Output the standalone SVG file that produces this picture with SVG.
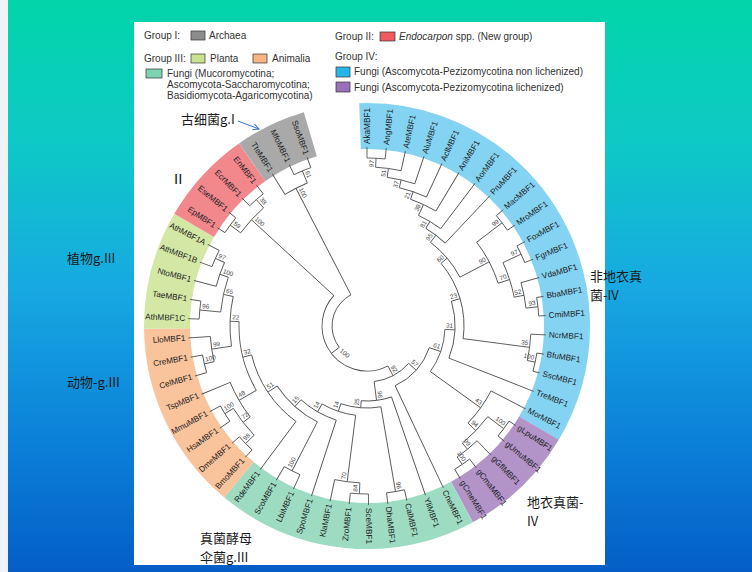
<svg xmlns="http://www.w3.org/2000/svg" width="752" height="572" viewBox="0 0 752 572">
<defs>
<linearGradient id="bg" x1="0" y1="0" x2="0" y2="1">
<stop offset="0" stop-color="#02d5a9"/>
<stop offset="0.25" stop-color="#0dc9c6"/>
<stop offset="0.5" stop-color="#17a9e2"/>
<stop offset="0.78" stop-color="#0b7fd8"/>
<stop offset="1" stop-color="#045ec6"/>
</linearGradient>
<marker id="ah" markerWidth="8" markerHeight="8" refX="6" refY="3" orient="auto" markerUnits="userSpaceOnUse">
<path d="M0,0 L6,3 L0,6" fill="none" stroke="#3d6fc4" stroke-width="1"/>
</marker>
<style>
.br{fill:none;stroke:#555;stroke-width:0.9}
.band{fill:none;stroke-width:46}
.lf{font-family:"Liberation Sans",Arial,sans-serif;font-size:8.2px;fill:#222;dominant-baseline:central}
.bs{font-family:"Liberation Sans",Arial,sans-serif;font-size:6.3px;fill:#444}
.lg{font-family:"Liberation Sans",Arial,sans-serif;font-size:10px;fill:#333}
.box{stroke:#333;stroke-width:0.7}
.cn{font-family:"Noto Sans CJK SC","Liberation Sans",sans-serif;font-size:13px;fill:#1a1a1a}
</style>
</defs>
<rect width="752" height="572" fill="url(#bg)"/>
<rect width="8" height="572" fill="#eef3f7"/>
<rect x="134" y="22" width="471" height="543" fill="#fff"/>

<g id="legend">
<text class="lg" x="144" y="39">Group I:</text>
<rect class="box" x="191" y="31" width="14" height="9" fill="#8c8c8c"/>
<text class="lg" x="209" y="39">Archaea</text>
<text class="lg" x="335" y="40">Group II:</text>
<rect class="box" x="380" y="32" width="15" height="9" fill="#ee5a60"/>
<text class="lg" x="399" y="40"><tspan font-style="italic">Endocarpon</tspan> spp. (New group)</text>
<text class="lg" x="144" y="62">Group III:</text>
<rect class="box" x="191" y="54" width="14" height="9" fill="#c9e28f"/>
<text class="lg" x="210" y="62">Planta</text>
<rect class="box" x="253" y="54" width="14" height="9" fill="#f6b483"/>
<text class="lg" x="272" y="62">Animalia</text>
<rect class="box" x="146" y="69" width="16" height="9" fill="#7ed3b3"/>
<text class="lg" x="167" y="77">Fungi (Mucoromycotina;</text>
<text class="lg" x="167" y="88">Ascomycota-Saccharomycotina;</text>
<text class="lg" x="167" y="99">Basidiomycota-Agaricomycotina)</text>
<text class="lg" x="335" y="60">Group IV:</text>
<rect class="box" x="336" y="67" width="14" height="10" fill="#29b5e8"/>
<text class="lg" x="354" y="75">Fungi (Ascomycota-Pezizomycotina non lichenized)</text>
<rect class="box" x="336" y="82" width="14" height="10" fill="#9a70b8"/>
<text class="lg" x="354" y="91">Fungi (Ascomycota-Pezizomycotina lichenized)</text>
</g>

<g id="tree" transform="translate(367,326)">
<g id="bands">
<circle class="band" r="200" stroke="#84d3f3" stroke-dasharray="428.3 3000" transform="rotate(-92)"/>
<circle class="band" r="200" stroke="#b294c9" stroke-dasharray="108.04 3000" transform="rotate(30.705)"/>
<circle class="band" r="200" stroke="#9ddcc3" stroke-dasharray="237.68 3000" transform="rotate(61.655)"/>
<circle class="band" r="200" stroke="#f9c39b" stroke-dasharray="172.86 3000" transform="rotate(129.745)"/>
<circle class="band" r="200" stroke="#d4e8a5" stroke-dasharray="108.04 3000" transform="rotate(179.265)"/>
<circle class="band" r="200" stroke="#f2878c" stroke-dasharray="86.43 3000" transform="rotate(210.215)"/>
<circle class="band" r="200" stroke="#a9a9a9" stroke-dasharray="64.82 3000" transform="rotate(234.975)"/>
</g>

<g id="connectors" class="br">
<circle r="168" stroke-dasharray="18.15 3000" transform="rotate(-90)"/>
<circle r="159" stroke-dasharray="25.77 3000" transform="rotate(-86.905)"/>
<circle r="150" stroke-dasharray="28.35 3000" transform="rotate(-82.26)"/>
<circle r="142" stroke-dasharray="28.77 3000" transform="rotate(-76.85)"/>
<circle r="134" stroke-dasharray="28.04 3000" transform="rotate(-71.04)"/>
<circle r="122" stroke-dasharray="25.96 3000" transform="rotate(-65.05)"/>
<circle r="114" stroke-dasharray="24.43 3000" transform="rotate(-58.95)"/>
<circle r="170" stroke-dasharray="18.37 3000" transform="rotate(-40.48)"/>
<circle r="170" stroke-dasharray="18.37 3000" transform="rotate(-28.1)"/>
<circle r="172" stroke-dasharray="18.58 3000" transform="rotate(-9.53)"/>
<circle r="160" stroke-dasharray="25.93 3000" transform="rotate(-15.72)"/>
<circle r="150" stroke-dasharray="36.46 3000" transform="rotate(-25.005)"/>
<circle r="138" stroke-dasharray="46.59 3000" transform="rotate(-37.385)"/>
<circle r="105" stroke-dasharray="46.0 3000" transform="rotate(-52.81)"/>
<circle r="172" stroke-dasharray="18.58 3000" transform="rotate(9.04)"/>
<circle r="164" stroke-dasharray="26.58 3000" transform="rotate(2.85)"/>
<circle r="97" stroke-dasharray="80.84 3000" transform="rotate(-40.26)"/>
<circle r="88" stroke-dasharray="58.06 3000" transform="rotate(-16.385)"/>
<circle r="171" stroke-dasharray="18.47 3000" transform="rotate(33.8)"/>
<circle r="168" stroke-dasharray="18.15 3000" transform="rotate(52.37)"/>
<circle r="159" stroke-dasharray="25.77 3000" transform="rotate(46.18)"/>
<circle r="151" stroke-dasharray="36.70 3000" transform="rotate(36.895)"/>
<circle r="140" stroke-dasharray="39.71 3000" transform="rotate(27.61)"/>
<circle r="78" stroke-dasharray="45.22 3000" transform="rotate(2.52)"/>
<circle r="66" stroke-dasharray="52.55 3000" transform="rotate(19.13)"/>
<circle r="168" stroke-dasharray="18.15 3000" transform="rotate(77.13)"/>
<circle r="168" stroke-dasharray="18.15 3000" transform="rotate(89.51)"/>
<circle r="157" stroke-dasharray="25.44 3000" transform="rotate(92.605)"/>
<circle r="163" stroke-dasharray="17.61 3000" transform="rotate(114.27)"/>
<circle r="167" stroke-dasharray="18.04 3000" transform="rotate(145.22)"/>
<circle r="169" stroke-dasharray="18.26 3000" transform="rotate(132.84)"/>
<circle r="157" stroke-dasharray="33.92 3000" transform="rotate(135.935)"/>
<circle r="148" stroke-dasharray="39.97 3000" transform="rotate(142.125)"/>
<circle r="167" stroke-dasharray="18.04 3000" transform="rotate(163.79)"/>
<circle r="157" stroke-dasharray="25.44 3000" transform="rotate(166.885)"/>
<circle r="168" stroke-dasharray="18.15 3000" transform="rotate(182.36)"/>
<circle r="166" stroke-dasharray="17.93 3000" transform="rotate(200.93)"/>
<circle r="156" stroke-dasharray="25.28 3000" transform="rotate(194.74)"/>
<circle r="147" stroke-dasharray="35.73 3000" transform="rotate(185.455)"/>
<circle r="137" stroke-dasharray="49.95 3000" transform="rotate(171.53)"/>
<circle r="128" stroke-dasharray="71.75 3000" transform="rotate(149.86)"/>
<circle r="119" stroke-dasharray="81.56 3000" transform="rotate(126.65)"/>
<circle r="108" stroke-dasharray="54.51 3000" transform="rotate(117.365)"/>
<circle r="99" stroke-dasharray="41.03 3000" transform="rotate(108.08)"/>
<circle r="90" stroke-dasharray="35.66 3000" transform="rotate(97.25)"/>
<circle r="82" stroke-dasharray="40.61 3000" transform="rotate(80.225)"/>
<circle r="75" stroke-dasharray="30.72 3000" transform="rotate(70.94)"/>
<circle r="56" stroke-dasharray="39.81 3000" transform="rotate(41.94)"/>
<circle r="168" stroke-dasharray="18.15 3000" transform="rotate(225.69)"/>
<circle r="170" stroke-dasharray="18.37 3000" transform="rotate(213.31)"/>
<circle r="157" stroke-dasharray="33.92 3000" transform="rotate(216.405)"/>
<circle r="45" stroke-dasharray="125.89 3000" transform="rotate(62.31)"/>
<circle r="168" stroke-dasharray="18.15 3000" transform="rotate(244.26)"/>
<circle r="155" stroke-dasharray="25.12 3000" transform="rotate(238.07)"/>
<circle r="35" stroke-dasharray="61.25 3000" transform="rotate(142.45)"/>
<line x1="168" x2="179" transform="rotate(-90)"/>
<line x1="168" x2="179" transform="rotate(-83.81)"/>
<line x1="159" x2="179" transform="rotate(-77.62)"/>
<line x1="150" x2="179" transform="rotate(-71.43)"/>
<line x1="142" x2="179" transform="rotate(-65.24)"/>
<line x1="134" x2="179" transform="rotate(-59.05)"/>
<line x1="122" x2="179" transform="rotate(-52.86)"/>
<line x1="114" x2="179" transform="rotate(-46.67)"/>
<line x1="170" x2="179" transform="rotate(-40.48)"/>
<line x1="170" x2="179" transform="rotate(-34.29)"/>
<line x1="170" x2="179" transform="rotate(-28.1)"/>
<line x1="170" x2="179" transform="rotate(-21.91)"/>
<line x1="160" x2="179" transform="rotate(-15.72)"/>
<line x1="172" x2="179" transform="rotate(-9.53)"/>
<line x1="172" x2="179" transform="rotate(-3.34)"/>
<line x1="164" x2="179" transform="rotate(2.85)"/>
<line x1="172" x2="179" transform="rotate(9.04)"/>
<line x1="172" x2="179" transform="rotate(15.23)"/>
<line x1="88" x2="179" transform="rotate(21.42)"/>
<line x1="140" x2="179" transform="rotate(27.61)"/>
<line x1="171" x2="179" transform="rotate(33.8)"/>
<line x1="171" x2="179" transform="rotate(39.99)"/>
<line x1="159" x2="179" transform="rotate(46.18)"/>
<line x1="168" x2="179" transform="rotate(52.37)"/>
<line x1="168" x2="179" transform="rotate(58.56)"/>
<line x1="66" x2="179" transform="rotate(64.75)"/>
<line x1="75" x2="179" transform="rotate(70.94)"/>
<line x1="168" x2="179" transform="rotate(77.13)"/>
<line x1="168" x2="179" transform="rotate(83.32)"/>
<line x1="168" x2="179" transform="rotate(89.51)"/>
<line x1="168" x2="179" transform="rotate(95.7)"/>
<line x1="157" x2="179" transform="rotate(101.89)"/>
<line x1="99" x2="179" transform="rotate(108.08)"/>
<line x1="163" x2="179" transform="rotate(114.27)"/>
<line x1="163" x2="179" transform="rotate(120.46)"/>
<line x1="119" x2="179" transform="rotate(126.65)"/>
<line x1="169" x2="179" transform="rotate(132.84)"/>
<line x1="169" x2="179" transform="rotate(139.03)"/>
<line x1="167" x2="179" transform="rotate(145.22)"/>
<line x1="167" x2="179" transform="rotate(151.41)"/>
<line x1="148" x2="179" transform="rotate(157.6)"/>
<line x1="167" x2="179" transform="rotate(163.79)"/>
<line x1="167" x2="179" transform="rotate(169.98)"/>
<line x1="157" x2="179" transform="rotate(176.17)"/>
<line x1="168" x2="179" transform="rotate(182.36)"/>
<line x1="168" x2="179" transform="rotate(188.55)"/>
<line x1="156" x2="179" transform="rotate(194.74)"/>
<line x1="166" x2="179" transform="rotate(200.93)"/>
<line x1="166" x2="179" transform="rotate(207.12)"/>
<line x1="170" x2="179" transform="rotate(213.31)"/>
<line x1="170" x2="179" transform="rotate(219.5)"/>
<line x1="168" x2="179" transform="rotate(225.69)"/>
<line x1="168" x2="179" transform="rotate(231.88)"/>
<line x1="155" x2="179" transform="rotate(238.07)"/>
<line x1="168" x2="179" transform="rotate(244.26)"/>
<line x1="168" x2="179" transform="rotate(250.45)"/>
<line x1="159" x2="168" transform="rotate(-86.905)"/>
<line x1="150" x2="159" transform="rotate(-82.26)"/>
<line x1="142" x2="150" transform="rotate(-76.85)"/>
<line x1="134" x2="142" transform="rotate(-71.04)"/>
<line x1="122" x2="134" transform="rotate(-65.05)"/>
<line x1="114" x2="122" transform="rotate(-58.95)"/>
<line x1="105" x2="114" transform="rotate(-52.81)"/>
<line x1="138" x2="170" transform="rotate(-37.385)"/>
<line x1="150" x2="170" transform="rotate(-25.005)"/>
<line x1="160" x2="172" transform="rotate(-6.435)"/>
<line x1="150" x2="160" transform="rotate(-11.08)"/>
<line x1="138" x2="150" transform="rotate(-18.04)"/>
<line x1="105" x2="138" transform="rotate(-27.71)"/>
<line x1="97" x2="105" transform="rotate(-40.26)"/>
<line x1="164" x2="172" transform="rotate(12.135)"/>
<line x1="97" x2="164" transform="rotate(7.49)"/>
<line x1="88" x2="97" transform="rotate(-16.385)"/>
<line x1="78" x2="88" transform="rotate(2.52)"/>
<line x1="151" x2="171" transform="rotate(36.895)"/>
<line x1="159" x2="168" transform="rotate(55.465)"/>
<line x1="151" x2="159" transform="rotate(50.82)"/>
<line x1="140" x2="151" transform="rotate(43.86)"/>
<line x1="78" x2="140" transform="rotate(35.735)"/>
<line x1="66" x2="78" transform="rotate(19.13)"/>
<line x1="56" x2="66" transform="rotate(41.94)"/>
<line x1="82" x2="168" transform="rotate(80.225)"/>
<line x1="157" x2="168" transform="rotate(92.605)"/>
<line x1="90" x2="157" transform="rotate(97.25)"/>
<line x1="108" x2="163" transform="rotate(117.365)"/>
<line x1="157" x2="167" transform="rotate(148.315)"/>
<line x1="157" x2="169" transform="rotate(135.935)"/>
<line x1="148" x2="157" transform="rotate(142.125)"/>
<line x1="128" x2="148" transform="rotate(149.86)"/>
<line x1="157" x2="167" transform="rotate(166.885)"/>
<line x1="137" x2="157" transform="rotate(171.53)"/>
<line x1="147" x2="168" transform="rotate(185.455)"/>
<line x1="156" x2="166" transform="rotate(204.025)"/>
<line x1="147" x2="156" transform="rotate(199.38)"/>
<line x1="137" x2="147" transform="rotate(192.42)"/>
<line x1="128" x2="137" transform="rotate(181.975)"/>
<line x1="119" x2="128" transform="rotate(165.92)"/>
<line x1="108" x2="119" transform="rotate(146.285)"/>
<line x1="99" x2="108" transform="rotate(131.825)"/>
<line x1="90" x2="99" transform="rotate(119.95)"/>
<line x1="82" x2="90" transform="rotate(108.6)"/>
<line x1="75" x2="82" transform="rotate(94.41)"/>
<line x1="56" x2="75" transform="rotate(82.675)"/>
<line x1="45" x2="56" transform="rotate(62.31)"/>
<line x1="157" x2="168" transform="rotate(228.785)"/>
<line x1="157" x2="170" transform="rotate(216.405)"/>
<line x1="45" x2="157" transform="rotate(222.595)"/>
<line x1="35" x2="45" transform="rotate(142.45)"/>
<line x1="155" x2="168" transform="rotate(247.355)"/>
<line x1="35" x2="155" transform="rotate(242.71)"/>
</g>

<g id="bootstrap" class="bs">
<text text-anchor="end" transform="rotate(-86.905) translate(166,-2)">97</text>
<text text-anchor="end" transform="rotate(-82.26) translate(157,-2)">51</text>
<text text-anchor="end" transform="rotate(-76.85) translate(148,-2)">37</text>
<text text-anchor="end" transform="rotate(-71.04) translate(140,-2)">21</text>
<text text-anchor="end" transform="rotate(-65.05) translate(132,-2)">39</text>
<text text-anchor="end" transform="rotate(-58.95) translate(120,-2)">81</text>
<text text-anchor="end" transform="rotate(-52.81) translate(112,-2)">95</text>
<text text-anchor="end" transform="rotate(-37.385) translate(168,-2)">99</text>
<text text-anchor="end" transform="rotate(-25.005) translate(168,-2)">97</text>
<text text-anchor="end" transform="rotate(-6.435) translate(170,-2)">93</text>
<text text-anchor="end" transform="rotate(-11.08) translate(158,-2)">52</text>
<text text-anchor="end" transform="rotate(-18.04) translate(148,-2)">70</text>
<text text-anchor="end" transform="rotate(-27.71) translate(136,-2)">90</text>
<text text-anchor="end" transform="rotate(-40.26) translate(103,-2)">60</text>
<text text-anchor="end" transform="rotate(12.135) translate(170,-2)">100</text>
<text text-anchor="end" transform="rotate(7.49) translate(162,-2)">35</text>
<text text-anchor="end" transform="rotate(-16.385) translate(95,-2)">23</text>
<text text-anchor="end" transform="rotate(2.52) translate(86,-2)">31</text>
<text text-anchor="end" transform="rotate(36.895) translate(169,-2)">100</text>
<text text-anchor="end" transform="rotate(55.465) translate(166,-2)">100</text>
<text text-anchor="end" transform="rotate(50.82) translate(157,-2)">99</text>
<text text-anchor="end" transform="rotate(43.86) translate(149,-2)">94</text>
<text text-anchor="end" transform="rotate(35.735) translate(138,-2)">43</text>
<text text-anchor="end" transform="rotate(19.13) translate(76,-2)">61</text>
<text text-anchor="end" transform="rotate(41.94) translate(64,-2)">57</text>
<text text-anchor="end" transform="rotate(80.225) translate(166,-2)">96</text>
<text text-anchor="end" transform="rotate(82.675) translate(73,-2)">96</text>
<text text-anchor="end" transform="rotate(62.31) translate(54,-2)">92</text>
<text transform="rotate(92.605) translate(166,2) rotate(180)">84</text>
<text transform="rotate(97.25) translate(155,2) rotate(180)">70</text>
<text transform="rotate(117.365) translate(161,2) rotate(180)">100</text>
<text transform="rotate(148.315) translate(165,2) rotate(180)">100</text>
<text transform="rotate(135.935) translate(167,2) rotate(180)">98</text>
<text transform="rotate(142.125) translate(155,2) rotate(180)">72</text>
<text transform="rotate(149.86) translate(146,2) rotate(180)">48</text>
<text transform="rotate(166.885) translate(165,2) rotate(180)">100</text>
<text transform="rotate(171.53) translate(155,2) rotate(180)">99</text>
<text transform="rotate(185.455) translate(166,2) rotate(180)">96</text>
<text transform="rotate(204.025) translate(164,2) rotate(180)">97</text>
<text transform="rotate(199.38) translate(154,2) rotate(180)">100</text>
<text transform="rotate(192.42) translate(145,2) rotate(180)">65</text>
<text transform="rotate(181.975) translate(135,2) rotate(180)">22</text>
<text transform="rotate(165.92) translate(126,2) rotate(180)">32</text>
<text transform="rotate(146.285) translate(117,2) rotate(180)">51</text>
<text transform="rotate(131.825) translate(106,2) rotate(180)">15</text>
<text transform="rotate(119.95) translate(97,2) rotate(180)">14</text>
<text transform="rotate(108.6) translate(88,2) rotate(180)">14</text>
<text transform="rotate(94.41) translate(80,2) rotate(180)">25</text>
<text transform="rotate(228.785) translate(166,2) rotate(180)">38</text>
<text transform="rotate(216.405) translate(168,2) rotate(180)">59</text>
<text transform="rotate(222.595) translate(155,2) rotate(180)">100</text>
<text transform="rotate(247.355) translate(166,2) rotate(180)">61</text>
<text transform="rotate(242.71) translate(153,2) rotate(180)">100</text>
<text text-anchor="middle" dominant-baseline="central" transform="translate(-22,27) rotate(40)">100</text>
</g>

<g id="leaves" class="lf">
<g id="n-AkaMBF1"><text transform="rotate(-90) translate(182,0)">AkaMBF1</text></g>
<g id="n-AngMBF1"><text transform="rotate(-83.81) translate(182,0)">AngMBF1</text></g>
<g id="n-AteMBF1"><text transform="rotate(-77.62) translate(182,0)">AteMBF1</text></g>
<g id="n-AluMBF1"><text transform="rotate(-71.43) translate(182,0)">AluMBF1</text></g>
<g id="n-AclMBF1"><text transform="rotate(-65.24) translate(182,0)">AclMBF1</text></g>
<g id="n-AniMBF1"><text transform="rotate(-59.05) translate(182,0)">AniMBF1</text></g>
<g id="n-AorMBF1"><text transform="rotate(-52.86) translate(182,0)">AorMBF1</text></g>
<g id="n-PruMBF1"><text transform="rotate(-46.67) translate(182,0)">PruMBF1</text></g>
<g id="n-MacMBF1"><text transform="rotate(-40.48) translate(182,0)">MacMBF1</text></g>
<g id="n-MroMBF1"><text transform="rotate(-34.29) translate(182,0)">MroMBF1</text></g>
<g id="n-FoxMBF1"><text transform="rotate(-28.1) translate(182,0)">FoxMBF1</text></g>
<g id="n-FgrMBF1"><text transform="rotate(-21.91) translate(182,0)">FgrMBF1</text></g>
<g id="n-VdaMBF1"><text transform="rotate(-15.72) translate(182,0)">VdaMBF1</text></g>
<g id="n-BbaMBF1"><text transform="rotate(-9.53) translate(182,0)">BbaMBF1</text></g>
<g id="n-CmiMBF1"><text transform="rotate(-3.34) translate(182,0)">CmiMBF1</text></g>
<g id="n-NcrMBF1"><text transform="rotate(2.85) translate(182,0)">NcrMBF1</text></g>
<g id="n-BfuMBF1"><text transform="rotate(9.04) translate(182,0)">BfuMBF1</text></g>
<g id="n-SscMBF1"><text transform="rotate(15.23) translate(182,0)">SscMBF1</text></g>
<g id="n-TreMBF1"><text transform="rotate(21.42) translate(182,0)">TreMBF1</text></g>
<g id="n-MorMBF1"><text transform="rotate(27.61) translate(182,0)">MorMBF1</text></g>
<g id="n-gLpuMBF1"><text transform="rotate(33.8) translate(182,0)">gLpuMBF1</text></g>
<g id="n-gUmuMBF1"><text transform="rotate(39.99) translate(182,0)">gUmuMBF1</text></g>
<g id="n-gGflMBF1"><text transform="rotate(46.18) translate(182,0)">gGflMBF1</text></g>
<g id="n-gCmaMBF1"><text transform="rotate(52.37) translate(182,0)">gCmaMBF1</text></g>
<g id="n-gCmeMBF1"><text transform="rotate(58.56) translate(182,0)">gCmeMBF1</text></g>
<g id="n-CneMBF1"><text transform="rotate(64.75) translate(182,0)">CneMBF1</text></g>
<g id="n-YliMBF1"><text transform="rotate(70.94) translate(182,0)">YliMBF1</text></g>
<g id="n-CalMBF1"><text transform="rotate(77.13) translate(182,0)">CalMBF1</text></g>
<g id="n-DhaMBF1"><text transform="rotate(83.32) translate(182,0)">DhaMBF1</text></g>
<g id="n-SceMBF1"><text transform="rotate(89.51) translate(182,0)">SceMBF1</text></g>
<g id="n-ZroMBF1"><text text-anchor="end" transform="rotate(95.7) translate(182,0) rotate(180)">ZroMBF1</text></g>
<g id="n-KlaMBF1"><text text-anchor="end" transform="rotate(101.89) translate(182,0) rotate(180)">KlaMBF1</text></g>
<g id="n-SpoMBF1"><text text-anchor="end" transform="rotate(108.08) translate(182,0) rotate(180)">SpoMBF1</text></g>
<g id="n-LbiMBF1"><text text-anchor="end" transform="rotate(114.27) translate(182,0) rotate(180)">LbiMBF1</text></g>
<g id="n-ScoMBF1"><text text-anchor="end" transform="rotate(120.46) translate(182,0) rotate(180)">ScoMBF1</text></g>
<g id="n-RdeMBF1"><text text-anchor="end" transform="rotate(126.65) translate(182,0) rotate(180)">RdeMBF1</text></g>
<g id="n-BmoMBF1"><text text-anchor="end" transform="rotate(132.84) translate(182,0) rotate(180)">BmoMBF1</text></g>
<g id="n-DmeMBF1"><text text-anchor="end" transform="rotate(139.03) translate(182,0) rotate(180)">DmeMBF1</text></g>
<g id="n-HsaMBF1"><text text-anchor="end" transform="rotate(145.22) translate(182,0) rotate(180)">HsaMBF1</text></g>
<g id="n-MmuMBF1"><text text-anchor="end" transform="rotate(151.41) translate(182,0) rotate(180)">MmuMBF1</text></g>
<g id="n-TspMBF1"><text text-anchor="end" transform="rotate(157.6) translate(182,0) rotate(180)">TspMBF1</text></g>
<g id="n-CelMBF1"><text text-anchor="end" transform="rotate(163.79) translate(182,0) rotate(180)">CelMBF1</text></g>
<g id="n-CreMBF1"><text text-anchor="end" transform="rotate(169.98) translate(182,0) rotate(180)">CreMBF1</text></g>
<g id="n-LloMBF1"><text text-anchor="end" transform="rotate(176.17) translate(182,0) rotate(180)">LloMBF1</text></g>
<g id="n-AthMBF1C"><text text-anchor="end" transform="rotate(182.36) translate(182,0) rotate(180)">AthMBF1C</text></g>
<g id="n-TaeMBF1"><text text-anchor="end" transform="rotate(188.55) translate(182,0) rotate(180)">TaeMBF1</text></g>
<g id="n-NtoMBF1"><text text-anchor="end" transform="rotate(194.74) translate(182,0) rotate(180)">NtoMBF1</text></g>
<g id="n-AthMBF1B"><text text-anchor="end" transform="rotate(200.93) translate(182,0) rotate(180)">AthMBF1B</text></g>
<g id="n-AthMBF1A"><text text-anchor="end" transform="rotate(207.12) translate(182,0) rotate(180)">AthMBF1A</text></g>
<g id="n-EpMBF1"><text text-anchor="end" transform="rotate(213.31) translate(182,0) rotate(180)">EpMBF1</text></g>
<g id="n-EseMBF1"><text text-anchor="end" transform="rotate(219.5) translate(182,0) rotate(180)">EseMBF1</text></g>
<g id="n-EcrMBF1"><text text-anchor="end" transform="rotate(225.69) translate(182,0) rotate(180)">EcrMBF1</text></g>
<g id="n-EnMBF1"><text text-anchor="end" transform="rotate(231.88) translate(182,0) rotate(180)">EnMBF1</text></g>
<g id="n-TteMBF1"><text text-anchor="end" transform="rotate(238.07) translate(182,0) rotate(180)">TteMBF1</text></g>
<g id="n-MfoMBF1"><text text-anchor="end" transform="rotate(244.26) translate(182,0) rotate(180)">MfoMBF1</text></g>
<g id="n-SsoMBF1"><text text-anchor="end" transform="rotate(250.45) translate(182,0) rotate(180)">SsoMBF1</text></g>
</g>
</g>

<g id="annotations">
<text class="cn" x="181" y="124" font-size="14">古细菌g.I</text>
<line x1="238" y1="121" x2="259" y2="129" stroke="#3d6fc4" stroke-width="1" marker-end="url(#ah)"/>
<text x="174" y="184" font-family="Liberation Sans, sans-serif" font-size="15" fill="#1a1a1a">II</text>
<text class="cn" x="67" y="263">植物g.III</text>
<text class="cn" x="67" y="387">动物-g.III</text>
<text class="cn" x="590" y="281">非地衣真</text>
<text class="cn" x="590" y="300">菌-IV</text>
<text class="cn" x="527" y="507">地衣真菌-</text>
<text class="cn" x="527" y="526">IV</text>
<text class="cn" x="200" y="543">真菌酵母</text>
<text class="cn" x="200" y="562">伞菌g.III</text>
</g>
</svg>
